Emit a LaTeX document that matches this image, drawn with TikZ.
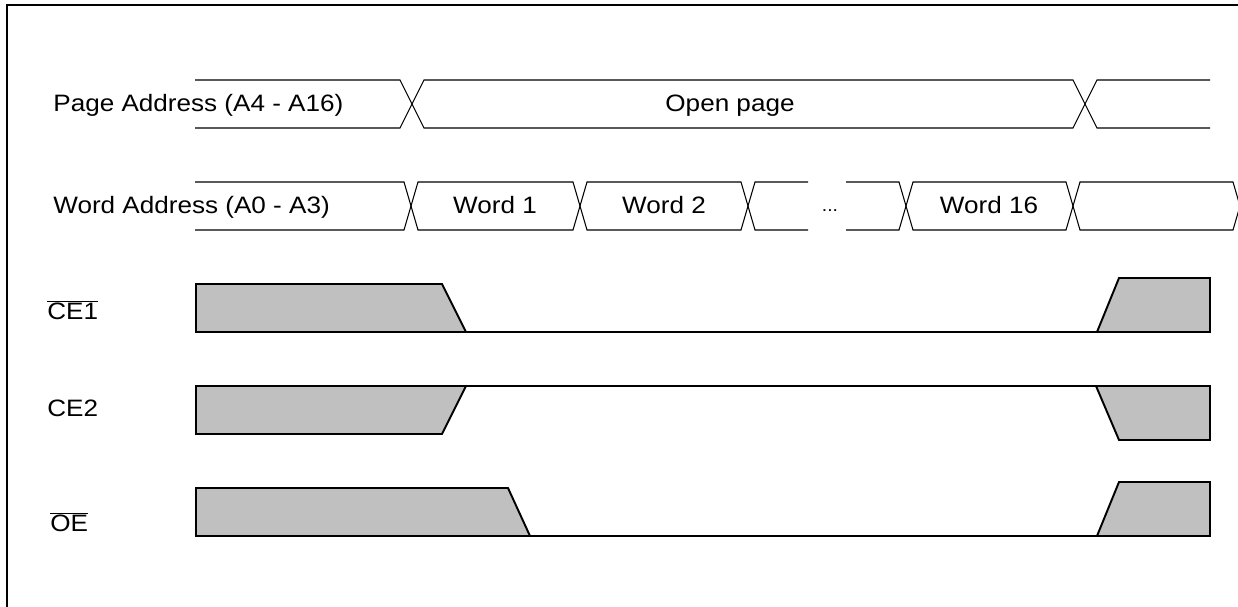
\documentclass[tikz,border=0pt]{standalone}
\usepackage{fontspec}
\setmainfont[FakeStretch=1.1]{Liberation Sans}
\usetikzlibrary{calc}

\definecolor{shade}{RGB}{192,192,192}

\tikzset{
  lbl/.style={font=\fontsize{13.5}{15}\selectfont,inner sep=0pt},
  bus/.style={line width=0.6pt,line join=miter},
  sig/.style={line width=1.1pt,line join=miter},
  blk/.style={sig,fill=shade},
}

\begin{document}
\begin{tikzpicture}[x=0.02cm,y=-0.02cm]
  \path[use as bounding box] (0,0) rectangle (1238,607);
  \clip (0,0) rectangle (1238,607);

  % frame
  \draw[line width=1.1pt] (7,620) -- (7,5) -- (1250,5);

  % labels
  \node[lbl,anchor=base west] (pagelbl) at (53,112) {Page Address (A4 - A16)};
  \node[lbl,anchor=base west] (wordlbl) at (53,214) {Word Address (A0 - A3)};
  \node[lbl,anchor=base west] (cea) at (47,320) {$\overline{\mbox{CE1}}$};
  \node[lbl,anchor=base west] (ceb) at (47,417) {CE2};
  \node[lbl,anchor=base west] (oe) at (50,532) {$\overline{\mbox{OE}}$};

  % page address bus
  \draw[bus] (195,80) -- (400,80) -- (412,104) -- (400,128) -- (195,128);
  \draw[bus] (412,104) -- (424,80) -- (1073,80) -- (1085,104) -- (1073,128) -- (424,128) -- cycle;
  \draw[bus] (1210,80) -- (1097,80) -- (1085,104) -- (1097,128) -- (1210,128);
  \node[lbl,anchor=base] (openpg) at (730,112) {Open page};

  % word address bus
  \draw[bus] (195,182) -- (404,182) -- (411,206) -- (404,230) -- (195,230);
  \foreach \a/\b in {411/580,580/748,1073/1240}
    \draw[bus] (\a,206) -- (\a+7,182) -- (\b-7,182) -- (\b,206) -- (\b-7,230) -- (\a+7,230) -- cycle;
  \draw[bus] (808,182) -- (755,182) -- (748,206) -- (755,230) -- (808,230);
  \draw[bus] (846,182) -- (899,182) -- (906,206) -- (899,230) -- (846,230);
  \draw[bus] (906,206) -- (913,182) -- (1066,182) -- (1073,206) -- (1066,230) -- (913,230) -- cycle;
  \node[lbl,anchor=base] (w1) at (495,214) {Word 1};
  \node[lbl,anchor=base] (w2) at (664,214) {Word 2};
  \node[lbl,anchor=base,font=\fontsize{10}{12}\selectfont] (dots) at (830,212) {...};
  \node[lbl,anchor=base] (w16) at (989,214) {Word 16};

  % CE1
  \draw[blk] (196,284) -- (442,284) -- (466,332) -- (196,332) -- cycle;
  \draw[sig] (466,332) -- (1097,332);
  \draw[blk] (1097,332) -- (1119,278) -- (1210,278) -- (1210,332) -- cycle;

  % CE2
  \draw[blk] (196,386) -- (466,386) -- (442,434) -- (196,434) -- cycle;
  \draw[sig] (466,386) -- (1096,386);
  \draw[blk] (1096,386) -- (1210,386) -- (1210,440) -- (1119,440) -- cycle;

  % OE
  \draw[blk] (196,488) -- (508,488) -- (530,536) -- (196,536) -- cycle;
  \draw[sig] (530,536) -- (1097,536);
  \draw[blk] (1097,536) -- (1119,482) -- (1210,482) -- (1210,536) -- cycle;
\end{tikzpicture}
\end{document}
